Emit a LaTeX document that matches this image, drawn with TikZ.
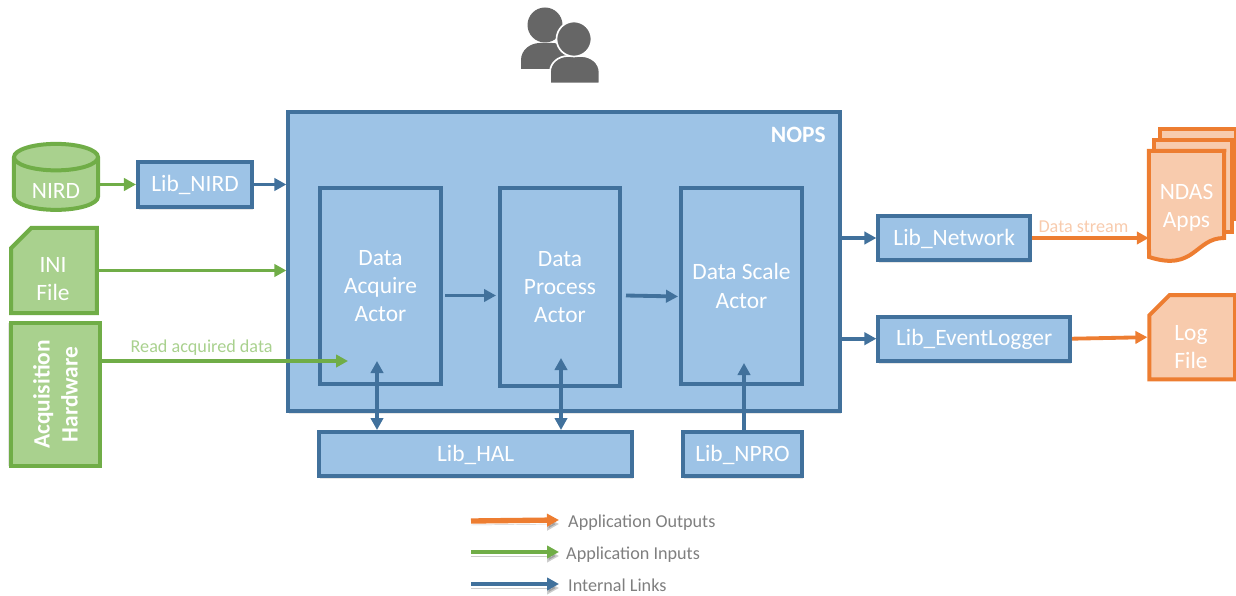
\documentclass[tikz,border=0pt]{standalone}
\usepackage{fontspec}
\setmainfont{Carlito}
\usetikzlibrary{arrows.meta,calc,shadows,shapes.geometric,shapes.misc}
\definecolor{bluefill}{HTML}{9DC3E6}
\definecolor{blueline}{HTML}{41719C}
\definecolor{greenfill}{HTML}{A9D18E}
\definecolor{greenline}{HTML}{70AD47}
\definecolor{orangefill}{HTML}{F8CBAD}
\definecolor{orangeline}{HTML}{ED7D31}
\definecolor{icongray}{HTML}{666666}
\definecolor{legendgray}{HTML}{7F7F7F}
\begin{document}
\begin{tikzpicture}[
    % GLOBAL CFG
    x=0.03cm,
    y=-0.03cm,
    font=\fontsize{20}{24}\selectfont,
    % Styles
    block/.style={% For the blue boxes
        rectangle,
        draw=blueline,
        fill=bluefill,
        line width=.12cm,
        text=white,
        align=center,
        inner sep=0pt,
        },
    lib/.style={% For the libraries, with a soft shadow
        block,
        text height=.46cm,
        text depth=.03cm,
        drop shadow={shadow xshift=.03cm, shadow yshift=-.09cm, opacity=.2},
        },
    input/.style={% For external inputs
        draw=greenline,
        fill=greenfill,
        line width=.12cm,
        text=white,
        align=center,
        inner sep=0pt,
        },
    output/.style={% For external outputs
        draw=orangeline,
        fill=orangefill,
        line width=.12cm,
        text=white,
        align=center,
        inner sep=0pt,
        },
    cutfile/.style={% Files with a cut corner
        chamfered rectangle,
        chamfered rectangle corners=north west,
        chamfered rectangle xsep=.36cm,
        chamfered rectangle ysep=.36cm,
        },
    filetext/.style={% Texts on the input and output shapes
        text=white,
        align=center,
        inner sep=0pt,
        },
    note/.style={% Small texts
        font=\fontsize{15.5}{18}\selectfont,
        inner sep=0pt,
        },
    ArrowB/.style={% Internal links
        line width=.115cm,
        draw=blueline,
        -{Triangle[length=.36cm,width=.37cm]},
        },
    ArrowBB/.style={% Internal links, both ways
        ArrowB,
        {Triangle[length=.36cm,width=.37cm]}-{Triangle[length=.36cm,width=.37cm]},
        },
    ArrowG/.style={% Inputs
        ArrowB,
        draw=greenline,
        },
    ArrowO/.style={% Outputs
        ArrowB,
        draw=orangeline,
        },
    legendshadow/.style={% Shadow under the legend arrows
        preaction={draw=black, opacity=.2, transform canvas={yshift=-.12cm}},
        },
    ]
    \useasboundingbox (0,0) rectangle (1236,596);

    % Draw the users on top
    \fill [icongray] (521,69) -- (521,60) to[out=90,in=180] (540,43) -- (552,43) to[out=0,in=90] (572,60) -- (572,69) -- cycle;
    \fill [icongray] (545,25) circle (17.5);
    \filldraw [icongray, draw=white, line width=.05cm] (550,83.5) -- (550,72) to[out=90,in=180] (568,56) -- (581,56) to[out=0,in=90] (599.5,72) -- (599.5,83.5) -- cycle;
    \filldraw [icongray, draw=white, line width=.05cm] (574,39) circle (17.5);

    % Draw the main box and the actors
    \node [lib, minimum width=16.55cm, minimum height=8.98cm] (nops) at (564.2,261.3) {};
    \node [anchor=north east, text=white, inner sep=0pt] (nopstitle) at (826,127) {\textbf{NOPS}};
    \node [block, minimum width=3.63cm, minimum height=5.85cm] (acquire) at (380.5,286) {Data\\Acquire\\Actor};
    \node [block, minimum width=3.6cm, minimum height=5.91cm] (process) at (560,287) {Data\\Process\\Actor};
    \node [block, minimum width=3.63cm, minimum height=5.85cm] (scale) at (741.5,286) {Data Scale\\Actor};

    % Draw the libraries
    \node [lib, minimum width=3.42cm, minimum height=1.32cm] (libnird) at (195,184.5) {Lib\_NIRD};
    \node [lib, minimum width=9.39cm, minimum height=1.32cm] (libhal) at (475.7,454) {Lib\_HAL};
    \node [lib, minimum width=3.57cm, minimum height=1.32cm] (libnpro) at (742.5,454) {Lib\_NPRO};
    \node [lib, minimum width=4.55cm, minimum height=1.32cm] (libnetwork) at (954.2,238) {Lib\_Network};
    \node [lib, minimum width=5.75cm, minimum height=1.32cm] (liblogger) at (974.2,338.7) {Lib\_EventLogger};

    % Draw external inputs
    \node [input, cylinder, shape border rotate=90, aspect=.55, minimum width=2.52cm, minimum height=1.98cm] (nird) at (56,184.5) {\phantom{NIRD}};
    \node [filetext] (nirdtext) at (56,191) {NIRD};
    \node [input, cutfile, minimum width=2.57cm, minimum height=2.56cm] (ini) at (54,270.5) {\phantom{File}};
    \node [filetext] (initext) at (53,279) {INI\\File};
    \node [input, rotate=90, font=\fontsize{20}{24}\selectfont\bfseries, minimum width=4.27cm, minimum height=2.67cm, drop shadow={shadow xshift=-.09cm, shadow yshift=0cm, opacity=.2}] (hardware) at (55.5,394.5) {Acquisition\\Hardware};

    % Draw external outputs
    \node [output, minimum width=2.28cm, minimum height=2.7cm] (ndas3) at (1197.5,174) {};
    \node [output, minimum width=2.34cm, minimum height=2.76cm] (ndas2) at (1192.5,186) {};
    \node [minimum width=2.25cm, minimum height=3.24cm, inner sep=0pt] (ndas) at (1186.5,205) {};
    \filldraw [output] (ndas.north west) -- (ndas.north east) -- (1224,238) .. controls (1195,238) and (1195,272) .. (1149,257) -- cycle;
    \node [filetext] (ndastext) at (1186.5,208) {NDAS\\Apps};
    \node [output, cutfile, minimum width=2.57cm, minimum height=2.53cm] (logfile) at (1192.2,337.2) {\phantom{File}};
    \node [filetext] (logtext) at (1191,347) {Log\\File};

    % Free ends of the arrows
    \coordinate (readend) at (348,361);
    \coordinate (scaleend) at (744,363);
    \coordinate (acquireend) at (377,361);
    \coordinate (processend) at (561,358);

    % Inputs
    \draw [ArrowG] (nird.east) -- (nird.east -| libnird.west);
    \draw [ArrowB] (libnird.east) -- (libnird.east -| nops.west);
    \draw [ArrowG] (ini.east) -- (ini.east -| nops.west);
    \draw [ArrowG] (hardware.south |- readend) -- (readend) node [note, pos=.405, above=3pt, text=greenfill] (readlabel) {Read acquired data};

    % Internal
    \draw [ArrowB] ($(acquire.east)+(2,9.5)$) -- ($(process.west)+(-2,8.5)$);
    \draw [ArrowB] ($(process.east)+(4,8.5)$) -- ($(scale.west)+(-1,10.5)$);
    \draw [ArrowBB] (libhal.north -| acquireend) -- (acquireend);
    \draw [ArrowBB] (libhal.north -| processend) -- (processend);
    \draw [ArrowB] (libnpro.north -| scaleend) -- (scaleend);

    % Outputs
    \draw [ArrowB] (nops.east |- libnetwork.west) -- (libnetwork.west);
    \draw [ArrowB] (nops.east |- liblogger.west) -- (liblogger.west);
    \draw [ArrowO] (libnetwork.east) -- (libnetwork.east -| ndas.west) node [note, pos=.44, above=3pt, text=orangefill] (streamlabel) {Data stream};
    \draw [ArrowO] (liblogger.east) -- (logfile.west);

    % Legend
    \coordinate (lego1) at (471,521);
    \coordinate (legg1) at (471,552);
    \coordinate (legb1) at (471,584);
    \node [note, anchor=west, text=legendgray] (lego) at (568,523) {Application Outputs};
    \node [note, anchor=west, text=legendgray] (legg) at (566,555) {Application Inputs};
    \node [note, anchor=west, text=legendgray] (legb) at (568,585) {Internal Links};
    \draw [ArrowO, legendshadow, line width=.16cm] (lego1) -- ($(lego.west)+(-9,-3)$);
    \draw [ArrowG, legendshadow] (legg1) -- ($(legg.west)+(-7,-3)$);
    \draw [ArrowB, legendshadow] (legb1) -- ($(legb.west)+(-9,-1)$);
\end{tikzpicture}
\end{document}
